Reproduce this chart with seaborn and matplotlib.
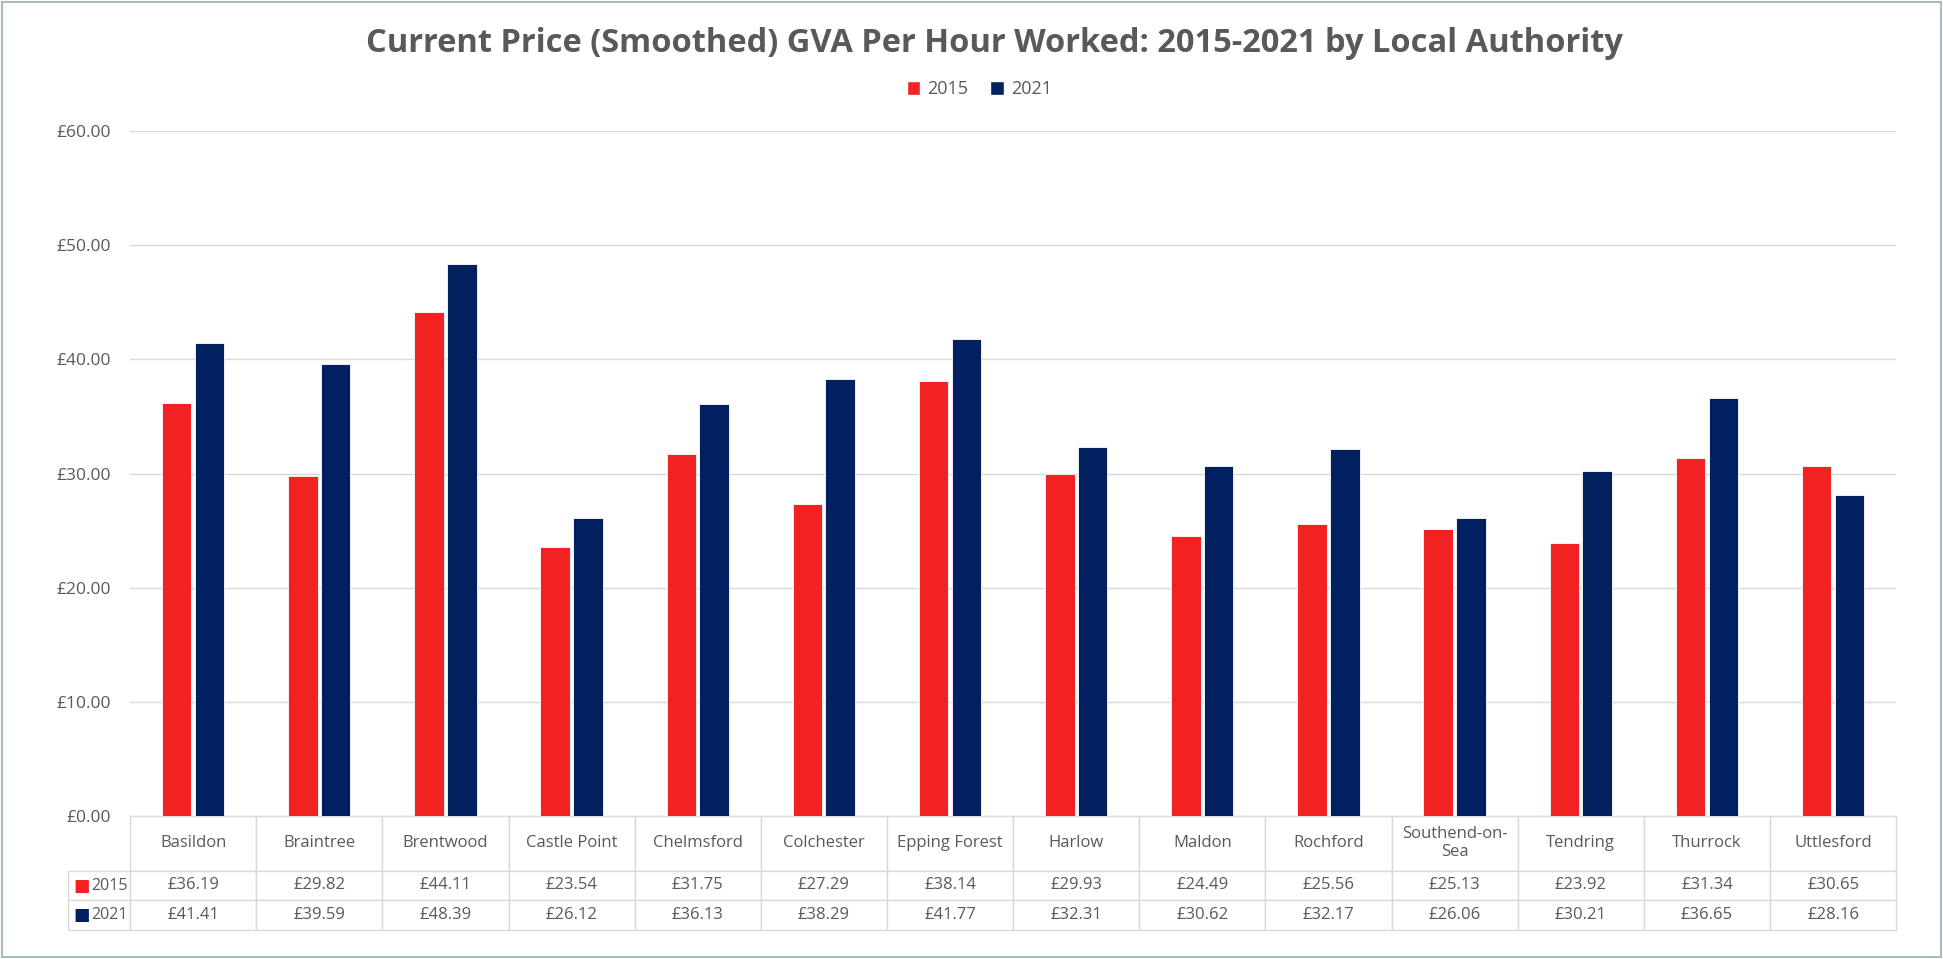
import pandas as pd
import matplotlib.pyplot as plt
import seaborn as sns
from matplotlib.patches import Patch, Rectangle

# Données
autorites = ["Basildon", "Braintree", "Brentwood", "Castle Point", "Chelmsford",
             "Colchester", "Epping Forest", "Harlow", "Maldon", "Rochford",
             "Southend-on-\nSea", "Tendring", "Thurrock", "Uttlesford"]
gva_2015 = [36.19, 29.82, 44.11, 23.54, 31.75, 27.29, 38.14, 29.93, 24.49, 25.56,
            25.13, 23.92, 31.34, 30.65]
gva_2021 = [41.41, 39.59, 48.39, 26.12, 36.13, 38.29, 41.77, 32.31, 30.62, 32.17,
            26.06, 30.21, 36.65, 28.16]
annees = ["2015", "2021"]
couleurs = {"2015": "#F22222", "2021": "#00205F"}

df = pd.DataFrame({
    "autorite": autorites * 2,
    "annee": ["2015"] * len(autorites) + ["2021"] * len(autorites),
    "gva": gva_2015 + gva_2021,
})

sns.set_style("white")
plt.rcParams["font.family"] = ["Open Sans", "DejaVu Sans"]
gris = "#595959"

fig = plt.figure(figsize=(19.43, 9.59), dpi=100)
ax = fig.add_axes([0.0669, 0.1491, 0.909, 0.7143])

sns.barplot(data=df, x="autorite", y="gva", hue="annee", palette=couleurs,
            width=0.52, gap=0.1, saturation=1, edgecolor="white", linewidth=0.6,
            legend=False, ax=ax)

ax.set_xlim(-0.5, len(autorites) - 0.5)
ax.set_ylim(0, 60)
ax.set_yticks(range(0, 61, 10))
ax.set_yticklabels([f"£{v:.2f}" for v in range(0, 61, 10)], color=gris, fontsize=12.5)
ax.tick_params(axis="y", length=0, pad=14)
ax.set_xticks([])
ax.set_xlabel("")
ax.set_ylabel("")
ax.grid(axis="y", color="#D9D9D9", linewidth=1)
ax.set_axisbelow(True)
for s in ax.spines.values():
    s.set_visible(False)

# Tableau de données sous le graphique (1re colonne = étiquettes des lignes)
cell_text = [[""] + [f"£{v:.2f}" for v in gva_2015],
             [""] + [f"£{v:.2f}" for v in gva_2021]]
tab = ax.table(cellText=cell_text, colLabels=[""] + autorites,
               cellLoc="center", loc="bottom",
               bbox=[-0.0351, -0.1664, 1.0351, 0.1664])
tab.auto_set_font_size(False)
for (r, c), cell in tab.get_celld().items():
    cell.set_edgecolor("#D9D9D9")
    cell.set_linewidth(1)
    cell.get_text().set_color(gris)
    cell.get_text().set_fontsize(12)
    cell.set_height(55 if r == 0 else 30)
    cell.set_width(62 if c == 0 else 126)
    if r == 0 and c == 0:
        cell.visible_edges = ""

# Légende des lignes du tableau
for y, an in zip([-0.102, -0.145], annees):
    ax.text(-0.0272, y, "■", transform=ax.transAxes, color=couleurs[an],
            fontsize=12.5, ha="center", va="center", family="DejaVu Sans")
    ax.text(-0.0222, y, an, transform=ax.transAxes, color=gris,
            fontsize=11.5, ha="left", va="center")

# Titre et légende
fig.text(0.5116, 0.955, "Current Price (Smoothed) GVA Per Hour Worked: 2015-2021 by Local Authority",
         ha="center", va="center", fontsize=23.5, fontweight="bold", color=gris)
handles = [Patch(facecolor=couleurs[a], label=a) for a in annees]
fig.legend(handles=handles, loc="center", bbox_to_anchor=(0.504, 0.907), ncol=2,
           frameon=False, fontsize=13, handlelength=0.75, handleheight=0.75,
           handletextpad=0.4, columnspacing=1.2, labelcolor=gris)

# Cadre autour de la figure
fig.patches.append(Rectangle((0.001, 0.002), 0.998, 0.996, transform=fig.transFigure,
                             fill=False, edgecolor="#A9BDBD", linewidth=1.5))

plt.savefig("out.png", dpi=100)
